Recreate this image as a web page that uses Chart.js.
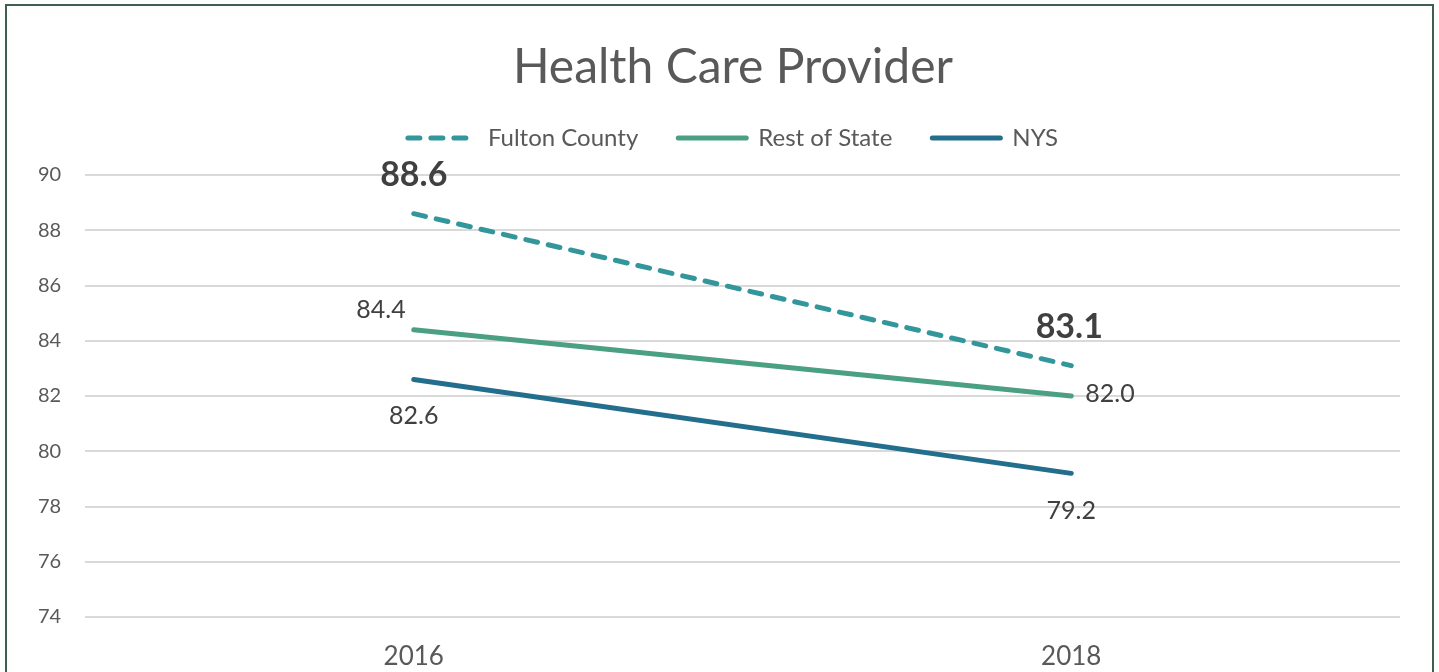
<!DOCTYPE html>
<html>
<head>
<meta charset="utf-8">
<title>Health Care Provider</title>
<script src="https://cdn.jsdelivr.net/npm/chart.js@4.4.1/dist/chart.umd.min.js"></script>
<style>
  html, body { margin: 0; padding: 0; background: #fff; overflow: hidden; }
  #frame {
    position: absolute; left: 5px; top: 4px; width: 1425px; height: 720px;
    border: 2px solid #3f5f4f; box-sizing: content-box;
  }
  #wrap { position: absolute; left: 0; top: 0; width: 1439px; height: 672px; }
</style>
</head>
<body>
<div id="frame"></div>
<div id="wrap"><canvas id="chart" width="1439" height="672"></canvas></div>
<script>
// Chart data
var years = ["2016", "2018"];
var fultonCounty = [88.6, 83.1];
var restOfState = [84.4, 82.0];
var nys = [82.6, 79.2];
var seriesNames = ["Fulton County", "Rest of State", "NYS"];
var yMin = 74;
var yMax = 90;
var yStep = 2;

// Where each value label sits next to its point (dx, dy, align, bold)
var labelStyles = [
  [{ dx: 0, dy: -39, align: "center", bold: true }, { dx: -2, dy: -39, align: "center", bold: true }],
  [{ dx: -8, dy: -20, align: "right", bold: false }, { dx: 14, dy: -2, align: "left", bold: false }],
  [{ dx: 0, dy: 37, align: "center", bold: false }, { dx: 0, dy: 38, align: "center", bold: false }]
];

var FONT = "Lato, 'Open Sans', sans-serif";
var LEFT_PAD = 66;

// Draws the value next to every point
var valueLabels = {
  id: "valueLabels",
  afterDatasetsDraw: function (chart) {
    var ctx = chart.ctx;
    ctx.save();
    ctx.textBaseline = "middle";
    chart.data.datasets.forEach(function (ds, i) {
      var meta = chart.getDatasetMeta(i);
      meta.data.forEach(function (pt, j) {
        var st = labelStyles[i][j];
        ctx.fillStyle = "#404040";
        ctx.font = st.bold ? "bold 34px " + FONT : "25px " + FONT;
        ctx.textAlign = st.align;
        ctx.fillText(ds.data[j].toFixed(1), pt.x + st.dx, pt.y + st.dy);
      });
    });
    ctx.restore();
  }
};

// Adds some room under the legend
var legendSpace = {
  id: "legendSpace",
  beforeInit: function (chart) {
    var lg = chart.legend;
    var origFit = lg.fit.bind(lg);
    lg.fit = function () {
      origFit();
      this.height += 15;
    };
  }
};

var ctx = document.getElementById("chart").getContext("2d");
new Chart(ctx, {
  type: "line",
  data: {
    labels: years,
    datasets: [
      {
        label: seriesNames[0],
        data: fultonCounty,
        borderColor: "#32969b",
        backgroundColor: "#32969b",
        borderWidth: 5,
        borderDash: [12, 11],
        borderCapStyle: "round",
        pointRadius: 0
      },
      {
        label: seriesNames[1],
        data: restOfState,
        borderColor: "#4ca082",
        backgroundColor: "#4ca082",
        borderWidth: 5,
        borderCapStyle: "round",
        pointRadius: 0
      },
      {
        label: seriesNames[2],
        data: nys,
        borderColor: "#236e8c",
        backgroundColor: "#236e8c",
        borderWidth: 5,
        borderCapStyle: "round",
        pointRadius: 0
      }
    ]
  },
  options: {
    responsive: false,
    animation: false,
    layout: { padding: { left: LEFT_PAD, right: 39, top: 0, bottom: 0 } },
    plugins: {
      title: {
        display: true,
        text: "Health Care Provider",
        color: "#595959",
        font: { family: FONT, size: 48, weight: "normal" },
        padding: { top: 39, bottom: -10.6 }
      },
      legend: {
        display: true,
        labels: {
          usePointStyle: true,
          pointStyle: "line",
          pointStyleWidth: 68,
          padding: 40,
          color: "#595959",
          font: { family: FONT, size: 24 },
          generateLabels: function (chart) {
            var items = Chart.defaults.plugins.legend.labels.generateLabels(chart);
            items.forEach(function (it) {
              var ds = chart.data.datasets[it.datasetIndex];
              it.lineDash = ds.borderDash || [];
              it.lineCap = "round";
              it.lineWidth = 5;
              it.strokeStyle = ds.borderColor;
            });
            return items;
          }
        }
      },
      tooltip: { enabled: false }
    },
    scales: {
      x: {
        offset: true,
        grid: { display: false, drawTicks: false },
        border: { display: false },
        ticks: { color: "#595959", font: { family: FONT, size: 26 }, padding: 24 },
        afterFit: function (scale) { scale.height = 55; }
      },
      y: {
        min: yMin,
        max: yMax,
        grid: { color: "#d9d9d9", lineWidth: 2, drawTicks: false },
        border: { display: false },
        // mirrored so the labels are not clipped to the narrow axis box
        ticks: { stepSize: yStep, color: "#595959", font: { family: FONT, size: 20 }, mirror: true, padding: -47 },
        afterFit: function (scale) { scale.width = 85 - LEFT_PAD; }
      }
    }
  },
  plugins: [valueLabels, legendSpace]
});
</script>
</body>
</html>
